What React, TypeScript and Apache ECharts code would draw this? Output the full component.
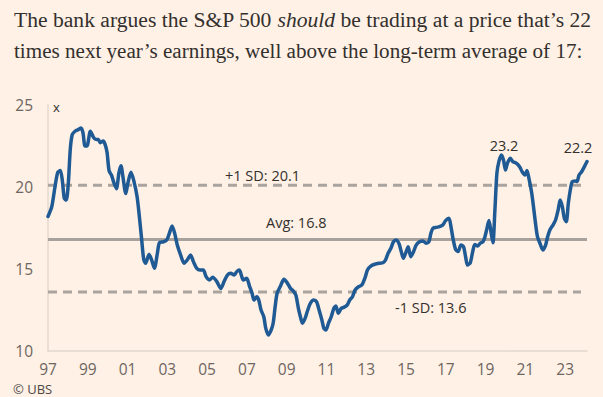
import React, { useEffect, useRef } from "react";
import * as echarts from "echarts";

// Forward P/E of the S&P 500 (x-axis: decimal year)
const years = [
  1997.0, 1997.19, 1997.35, 1997.49, 1997.62, 1997.72, 1997.82, 1997.92, 1998.02, 1998.12,
  1998.22, 1998.36, 1998.52, 1998.66, 1998.76, 1998.86, 1998.96, 1999.13, 1999.3, 1999.43,
  1999.53, 1999.63, 1999.77, 1999.87, 1999.97, 2000.07, 2000.2, 2000.3, 2000.44, 2000.57,
  2000.67, 2000.77, 2000.91, 2001.01, 2001.17, 2001.31, 2001.48, 2001.61, 2001.71, 2001.81,
  2001.91, 2002.08, 2002.21, 2002.35, 2002.5, 2002.6, 2002.8, 2002.97, 2003.1, 2003.24,
  2003.37, 2003.5, 2003.67, 2003.84, 2004.0, 2004.17, 2004.31, 2004.48, 2004.65, 2004.81,
  2004.95, 2005.11, 2005.28, 2005.49, 2005.69, 2005.85, 2006.02, 2006.19, 2006.36, 2006.49,
  2006.62, 2006.72, 2006.82, 2006.99, 2007.13, 2007.26, 2007.36, 2007.5, 2007.6, 2007.71,
  2007.85, 2007.95, 2008.08, 2008.22, 2008.32, 2008.42, 2008.52, 2008.69, 2008.86, 2009.02,
  2009.19, 2009.32, 2009.46, 2009.59, 2009.69, 2009.79, 2009.93, 2010.06, 2010.19, 2010.36,
  2010.5, 2010.63, 2010.77, 2010.87, 2010.97, 2011.1, 2011.24, 2011.37, 2011.47, 2011.6,
  2011.74, 2011.87, 2012.04, 2012.17, 2012.31, 2012.44, 2012.61, 2012.78, 2012.95, 2013.06,
  2013.23, 2013.43, 2013.63, 2013.84, 2013.97, 2014.1, 2014.24, 2014.37, 2014.5, 2014.64,
  2014.74, 2014.87, 2015.01, 2015.11, 2015.24, 2015.38, 2015.51, 2015.68, 2015.85, 2016.01,
  2016.15, 2016.25, 2016.35, 2016.52, 2016.68, 2016.85, 2016.99, 2017.16, 2017.26, 2017.36,
  2017.49, 2017.62, 2017.76, 2017.89, 2017.99, 2018.09, 2018.23, 2018.36, 2018.46, 2018.6,
  2018.73, 2018.87, 2018.97, 2019.07, 2019.17, 2019.27, 2019.37, 2019.47, 2019.57, 2019.67,
  2019.8, 2019.9, 2020.0, 2020.1, 2020.24, 2020.37, 2020.54, 2020.71, 2020.84, 2020.98,
  2021.08, 2021.18, 2021.31, 2021.41, 2021.51, 2021.61, 2021.75, 2021.88, 2022.02, 2022.12,
  2022.25, 2022.39, 2022.52, 2022.65, 2022.75, 2022.86, 2022.96, 2023.06, 2023.16, 2023.26,
  2023.36, 2023.5, 2023.6, 2023.7, 2023.83, 2023.97, 2024.1,
];

const peRatio = [
  18.2, 18.8, 20.0, 20.9, 21.0, 20.4, 19.3, 19.2, 20.2, 22.3,
  23.2, 23.4, 23.5, 23.6, 23.3, 22.5, 22.5, 23.4, 23.0, 22.9,
  22.9, 22.7, 22.8, 22.6, 22.1, 21.0, 20.7, 20.3, 19.9, 20.9,
  21.3, 20.6, 19.6, 20.2, 20.9, 20.4, 19.4, 18.0, 16.8, 15.6,
  15.35, 15.9, 15.55, 15.05, 15.96, 16.6, 16.66, 16.77, 17.17, 17.62,
  17.17, 16.46, 15.85, 15.35, 15.55, 15.85, 15.45, 15.04, 14.94, 14.94,
  14.53, 14.33, 14.49, 14.23, 13.82, 14.23, 14.63, 14.74, 14.63, 14.84,
  14.94, 14.63, 14.33, 14.43, 13.96, 13.52, 13.11, 13.31, 13.1, 12.5,
  12.09, 11.38, 10.98, 11.28, 11.69, 12.7, 13.52, 13.96, 14.37, 14.17,
  13.82, 13.68, 13.41, 12.6, 12.09, 11.69, 12.0, 12.5, 12.91, 13.11,
  13.01, 12.5, 11.89, 11.38, 11.28, 11.69, 12.09, 12.6, 12.74, 12.3,
  12.6, 12.66, 12.8, 13.11, 13.31, 13.72, 13.92, 14.02, 14.5, 14.94,
  15.18, 15.29, 15.35, 15.38, 15.55, 15.96, 16.26, 16.66, 16.77, 16.57,
  16.16, 15.65, 16.06, 16.36, 15.75, 16.06, 16.46, 16.66, 16.71, 16.57,
  16.66, 17.17, 17.48, 17.54, 17.58, 17.68, 17.95, 18.09, 17.58, 16.87,
  16.2, 16.06, 16.46, 16.36, 15.79, 15.24, 15.38, 16.1, 16.5, 16.4,
  16.57, 16.66, 16.97, 17.48, 17.95, 17.28, 16.6, 18.6, 20.84, 21.55,
  21.95, 21.65, 21.04, 21.45, 21.75, 21.55, 21.45, 21.24, 20.93, 20.73,
  21.0, 20.53, 19.71, 18.8, 17.79, 16.97, 16.52, 16.16, 16.46, 16.97,
  17.42, 17.68, 17.99, 18.6, 19.21, 18.8, 18.09, 17.88, 19.0, 19.82,
  20.33, 20.37, 20.33, 20.73, 20.93, 21.24, 21.55,
];

const plusSD = 20.1;
const average = 16.8;
const minusSD = 13.6;

const xStart = 1997;
const xEnd = 2024.1;
const dashedEnd = 2023.8;

const titleLine1 = "{n|The bank argues the S&P 500 }{i|should}{n| be trading at a price that’s 22}";
const titleLine2 = "times next year’s earnings, well above the long-term average of 17:";
const plusLabel = "+1 SD: 20.1";
const avgLabel = "Avg: 16.8";
const minusLabel = "-1 SD: 13.6";
const peakLabel = "23.2";
const lastLabel = "22.2";
const sourceLabel = "© UBS";

export default function App() {
  const ref = useRef<HTMLDivElement>(null);

  useEffect(() => {
    if (!ref.current) return;
    document.body.style.background = "#fff1e5";
    const chart = echarts.init(ref.current, null, { renderer: "svg" });
    const pairs = years.map((y, i) => [y, peRatio[i]]);
    const gray = "#aaa39e";
    const sans = "'Open Sans', 'Noto Sans', sans-serif";
    const serif = "'Liberation Serif', 'DejaVu Serif', serif";
    const annot = (text: string, x: number, y: number, align: string = "left") => ({
      type: "text",
      x,
      y,
      silent: true,
      style: {
        text,
        font: `14.5px ${sans}`,
        fill: "#33302e",
        textAlign: align,
        textVerticalAlign: "middle",
      },
    });

    chart.setOption({
      animation: false,
      backgroundColor: "#fff1e5",
      grid: { left: 48, right: 16, top: 105, bottom: 46, containLabel: false },
      xAxis: {
        type: "value",
        min: xStart,
        max: xEnd,
        interval: 2,
        axisLine: { show: true, lineStyle: { color: "#e2d8ce", width: 1.5 } },
        axisTick: { show: false },
        splitLine: { show: false },
        axisLabel: {
          color: "#6e6662",
          fontSize: 15.5,
          fontFamily: sans,
          margin: 10,
          showMaxLabel: false,
          formatter: (v: number) =>
            Number.isInteger(v) && (v - xStart) % 2 === 0 ? String(v % 100).padStart(2, "0") : "",
        },
      },
      yAxis: {
        type: "value",
        min: 10,
        max: 25,
        interval: 5,
        axisLine: { show: true, lineStyle: { color: "#e2d8ce", width: 1.5 } },
        axisTick: { show: false },
        splitLine: { show: false },
        axisLabel: { color: "#6e6662", fontSize: 15.5, fontFamily: sans, margin: 15 },
      },
      series: [
        {
          type: "line",
          data: [[xStart, plusSD], [dashedEnd, plusSD]],
          symbol: "none",
          silent: true,
          z: 1,
          lineStyle: { color: gray, width: 3, type: [9, 6] },
        },
        {
          type: "line",
          data: [[xStart, average], [xEnd, average]],
          symbol: "none",
          silent: true,
          z: 1,
          lineStyle: { color: "#a8a19c", width: 3 },
        },
        {
          type: "line",
          data: [[xStart, minusSD], [dashedEnd, minusSD]],
          symbol: "none",
          silent: true,
          z: 1,
          lineStyle: { color: gray, width: 3, type: [9, 6] },
        },
        {
          type: "line",
          data: pairs,
          symbol: "none",
          smooth: 0.25,
          z: 5,
          lineStyle: { color: "#1f5a94", width: 3.5, cap: "round", join: "round" },
        },
      ],
      graphic: [
        {
          type: "text",
          x: 14,
          y: 20,
          silent: true,
          style: {
            text: titleLine1,
            textVerticalAlign: "middle",
            rich: {
              n: { fontFamily: serif, fontSize: 21.6, fill: "#33302e" },
              i: { fontFamily: serif, fontSize: 21.6, fontStyle: "italic", fill: "#33302e" },
            },
          },
        },
        {
          type: "text",
          x: 14,
          y: 51,
          silent: true,
          style: {
            text: titleLine2,
            font: `21.1px ${serif}`,
            fill: "#33302e",
            textVerticalAlign: "middle",
          },
        },
        {
          type: "text",
          x: 53,
          y: 107,
          silent: true,
          style: { text: "x", font: `13px ${sans}`, fill: "#33302e", textVerticalAlign: "middle" },
        },
        annot(plusLabel, 225, 175),
        annot(avgLabel, 266, 222),
        annot(minusLabel, 395, 307),
        annot(peakLabel, 504, 145, "center"),
        annot(lastLabel, 578, 147, "center"),
        {
          type: "text",
          x: 13,
          y: 389,
          silent: true,
          style: { text: sourceLabel, font: `13px ${sans}`, fill: "#4d4845", textVerticalAlign: "middle" },
        },
      ],
    });

    return () => chart.dispose();
  }, []);

  return (
    <div
      ref={ref}
      style={{ position: "absolute", left: 0, top: 0, width: 603, height: 397 }}
    />
  );
}
